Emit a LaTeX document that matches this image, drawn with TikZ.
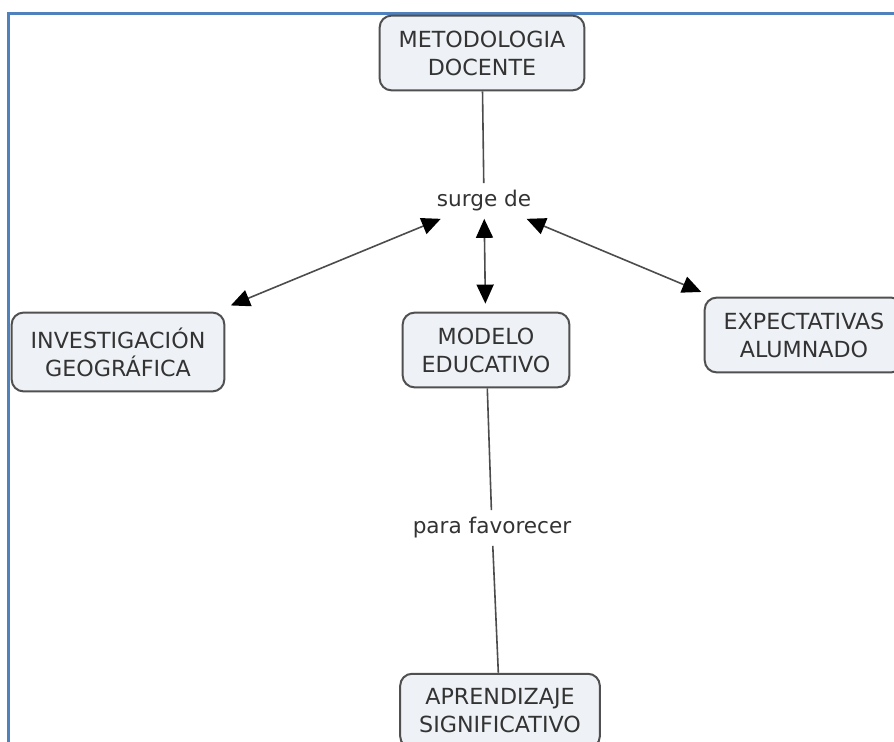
\documentclass[tikz,border=0pt]{standalone}
\usepackage{fontspec}
\setmainfont{DejaVu Sans}
\usepackage{tikz}
\usetikzlibrary{arrows.meta}
\definecolor{framebl}{HTML}{4F81BD}
\definecolor{boxfill}{HTML}{EEF1F5}
\definecolor{boxline}{HTML}{505050}
\tikzset{
  concept/.style={
    rectangle, rounded corners=6pt, draw=boxline, line width=1pt,
    fill=boxfill, align=center, text=black!80, inner xsep=9.5pt, inner ysep=7.5pt,
    font=\fontsize{11.1}{14}\selectfont
  },
  phrase/.style={inner sep=3.5pt, text=black!80, font=\fontsize{10.8}{14}\selectfont},
  link/.style={line width=0.8pt, draw=black!70},
  twoway/.style={link, {Triangle[length=9.5pt,width=8.5pt,color=black]}-{Triangle[length=9.5pt,width=8.5pt,color=black]}},
  frame/.style={line width=1.5pt, draw=framebl},
}

\begin{document}
\begin{tikzpicture}[x=0.5pt, y=-0.5pt]
  \useasboundingbox (0,0) rectangle (894,742);
  % Frame
  \draw[frame] (8.5,760) |- (910,14);

  % Concepts
  \node[concept] (meto) at (482,53) {METODOLOGIA\\DOCENTE};
  \node[concept] (inv) at (118,352) {INVESTIGACIÓN\\GEOGRÁFICA};
  \node[concept] (modelo) at (486,350) {MODELO\\EDUCATIVO};
  \node[concept] (expec) at (804,335) {EXPECTATIVAS\\ALUMNADO};
  \node[concept] (aprend) at (500,711) {APRENDIZAJE\\SIGNIFICATIVO};

  % Linking phrases
  \node[phrase] (surge) at (484,201) {surge de};
  \node[phrase] (para) at (492,528) {para favorecer};

  % Links
  \draw[link] (meto) -- (surge);
  \draw[twoway, shorten >=8pt] (surge) -- (inv);
  \draw[twoway, shorten >=4pt] (surge) -- (modelo);
  \draw[twoway, shorten >=6pt] (surge) -- (expec);
  \draw[link] (modelo) -- (para);
  \draw[link] (para) -- (aprend);
\end{tikzpicture}
\end{document}
